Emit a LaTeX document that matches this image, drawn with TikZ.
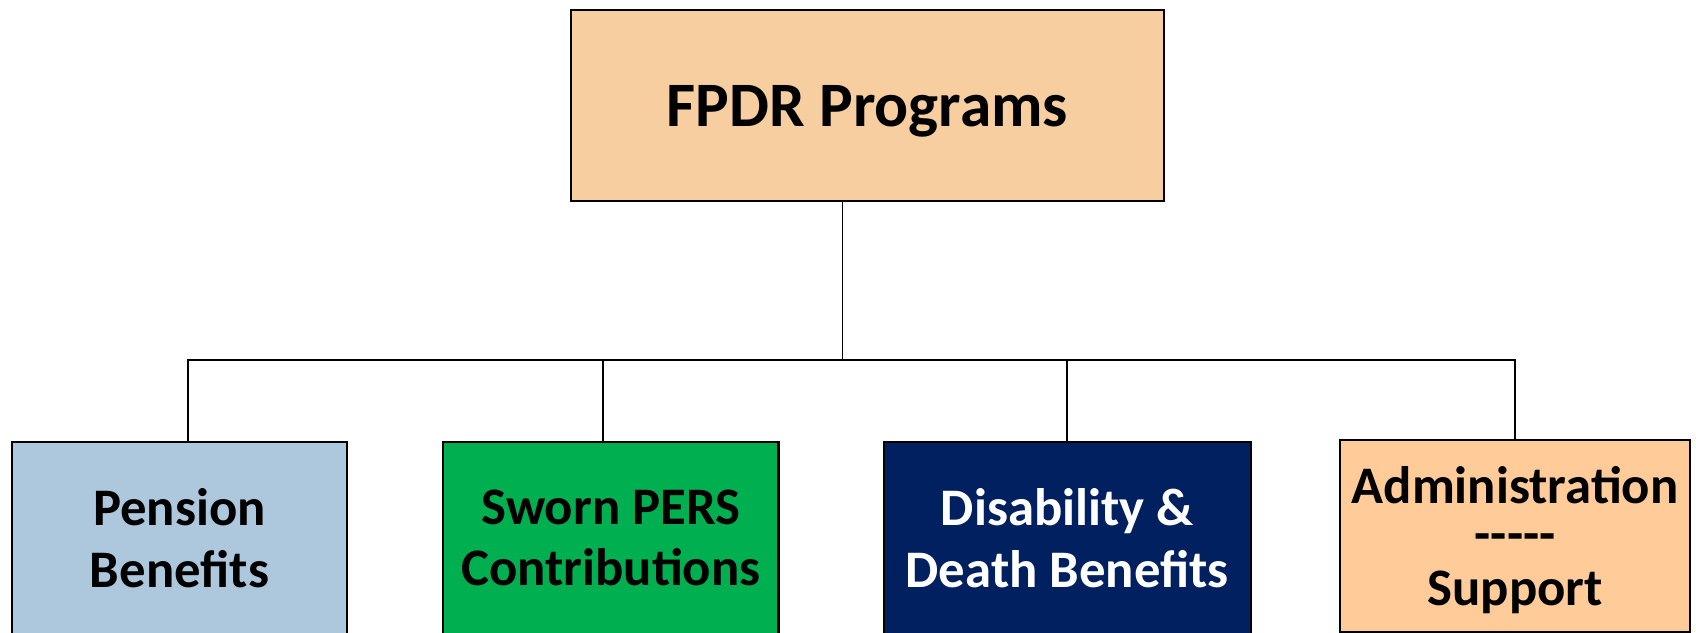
\documentclass[tikz,border=0pt]{standalone}
\usepackage{fontspec}
\setmainfont{Carlito}
\usepackage{tikz}
\usetikzlibrary{positioning}

\definecolor{peach}{HTML}{F7CE9F}
\definecolor{apricot}{HTML}{FFCB98}
\definecolor{steelpale}{HTML}{ADC7DD}
\definecolor{leafgreen}{HTML}{00AF50}
\definecolor{navy}{HTML}{002060}

\begin{document}
\begin{tikzpicture}[x=0.01cm, y=-0.01cm,
            box/.style={draw, rectangle, line width=0.6pt, minimum height=1.92cm, align=center,
                        font=\fontsize{15}{17.5}\selectfont\bfseries},
            link/.style={line width=0.5pt}]

            \useasboundingbox (0,0) rectangle (1696,632);
            \clip (0,0) rectangle (1696,632);

            \node[box, fill=peach, minimum width=5.93cm, minimum height=1.91cm, text depth=0pt,
                  font=\fontsize{18}{20}\selectfont\bfseries] (top) at (867.5,105.5) {FPDR Programs};
            \node[box, fill=steelpale, minimum width=3.35cm] (pension) at (179.5,538) {Pension\\Benefits};
            \node[box, fill=leafgreen, minimum width=3.35cm, right=0.94cm of pension] (sworn) {Sworn PERS\\Contributions};
            \node[box, fill=navy, text=white, minimum width=3.67cm, right=1.03cm of sworn] (disability) {Disability \&\\Death Benefits};
            \node[box, fill=apricot, minimum width=3.50cm, text depth=0pt, right=0.87cm of disability, yshift=0.02cm] (admin) {Administration\\[-4pt]-{}-{}-{}-{}-\\[-2pt]Support};

            % bus between the top box and the four programs
            \coordinate (hub) at (842.6,360);
            \draw[link] (top.south -| hub) -- (hub);
            \draw[link] ([xshift=0.085cm]pension.north) |- (admin.north |- hub) -- (admin.north);
            \draw[link] ([xshift=-0.075cm]sworn.north) -- ([xshift=-0.075cm]sworn.north |- hub);
            \draw[link] (disability.north) -- (disability.north |- hub);
        \end{tikzpicture}
\end{document}
